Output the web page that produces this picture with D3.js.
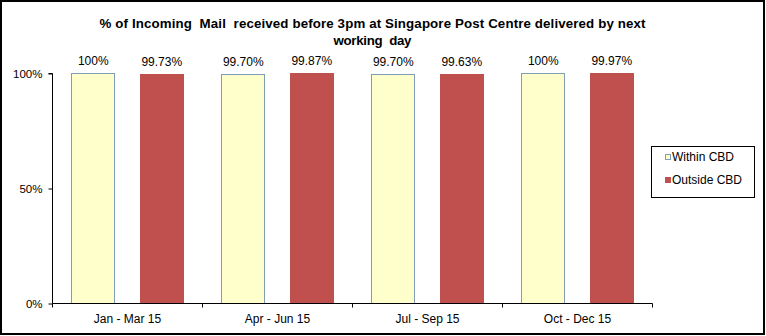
<!DOCTYPE html>
<html><head><meta charset="utf-8">
<script src="https://cdn.jsdelivr.net/npm/d3@7"></script>
<style>body{margin:0;background:#fff}svg{display:block}text{font-family:"Liberation Sans",Arial,sans-serif}</style>
</head><body>
<script>
const categories = ["Jan - Mar 15","Apr - Jun 15","Jul - Sep 15","Oct - Dec 15"];
const seriesNames = ["Within CBD","Outside CBD"];
const withinCBD = [100, 99.70, 99.70, 100];
const outsideCBD = [99.73, 99.87, 99.63, 99.97];
const withinLabels = ["100%","99.70%","99.70%","100%"];
const outsideLabels = ["99.73%","99.87%","99.63%","99.97%"];
const yTicks = [0, 50, 100];
const titleLines = ["% of Incoming  Mail  received before 3pm at Singapore Post Centre delivered by next","working  day"];

const W = 766, H = 336;
const svg = d3.select("body").append("svg").attr("width", W).attr("height", H);
svg.append("rect").attr("x",1).attr("y",1).attr("width",W-3).attr("height",H-3)
  .attr("fill","#fff").attr("stroke","#000").attr("stroke-width",2);

const m = {left:52, right:652, top:73, bottom:303};
const x0 = d3.scaleBand().domain(categories).range([m.left, m.right]).paddingInner(0).paddingOuter(0);
const x1 = d3.scaleBand().domain(seriesNames).range([0, x0.bandwidth()]).paddingInner(0.37).paddingOuter(0.28);
const y = d3.scaleLinear().domain([0,100]).range([m.bottom, m.top]);

// title
const tl = [546, 78];
svg.append("g").selectAll("text").data(titleLines).join("text")
  .attr("x", 372.5).attr("y",(d,i)=>28+i*17).attr("text-anchor","middle")
  .attr("xml:space","preserve").style("white-space","pre")
  .attr("textLength",(d,i)=>tl[i]).attr("lengthAdjust","spacing")
  .attr("font-size",13.3).attr("font-weight","bold").attr("fill","#000").text(d=>d);

const data = categories.map((c,i)=>({cat:c, vals:[
  {s:seriesNames[0], v:withinCBD[i], l:withinLabels[i]},
  {s:seriesNames[1], v:outsideCBD[i], l:outsideLabels[i]}]}));
const fills = {"Within CBD":"#FFFFCC","Outside CBD":"#C0504D"};
const strokes = {"Within CBD":"#7F9DB9","Outside CBD":"#C0504D"};

const g = svg.append("g");
const grp = g.selectAll("g").data(data).join("g").attr("transform",d=>`translate(${x0(d.cat)},0)`);
grp.selectAll("rect").data(d=>d.vals).join("rect")
  .attr("x",d=>Math.round(x1(d.s))+0.5).attr("y",d=>Math.round(y(d.v))+0.5)
  .attr("width",Math.round(x1.bandwidth())).attr("height",d=>m.bottom-Math.round(y(d.v)))
  .attr("fill",d=>fills[d.s]).attr("stroke",d=>strokes[d.s]).attr("stroke-width",1);
grp.selectAll("text").data(d=>d.vals).join("text")
  .attr("x",d=>x1(d.s)+x1.bandwidth()/2+0.5).attr("y",d=>y(d.v)-8)
  .attr("text-anchor","middle").attr("font-size",12).attr("fill","#000").text(d=>d.l);

// y axis
const yAxis = d3.axisLeft(y).tickValues(yTicks).tickFormat(d=>d+"%").tickSize(4).tickPadding(6);
const ya = svg.append("g").attr("transform",`translate(${m.left+0.5},0.5)`).call(yAxis);
ya.select(".domain").attr("stroke","#000").attr("d",`M-4,${m.top}H0V${m.bottom}`);
ya.selectAll("line").attr("stroke","#000");
ya.selectAll("text").attr("font-size",11.5).attr("fill","#000").attr("font-family","Liberation Sans, Arial, sans-serif");

// x axis
const xa = svg.append("g").attr("transform",`translate(0.5,${m.bottom+0.5})`);
xa.append("line").attr("x1",m.left).attr("x2",m.right).attr("stroke","#000");
const bounds = categories.map(c=>x0(c)).concat([m.right]);
xa.selectAll("line.t").data(bounds).join("line").attr("class","t")
  .attr("x1",d=>d).attr("x2",d=>d).attr("y1",0).attr("y2",4).attr("stroke","#000");
xa.selectAll("text").data(categories).join("text")
  .attr("x",d=>x0(d)+x0.bandwidth()/2).attr("y",19.5).attr("text-anchor","middle")
  .attr("font-size",12).attr("fill","#000").text(d=>d);

// legend
const lg = svg.append("g");
lg.append("rect").attr("x",651.5).attr("y",146.5).attr("width",103).attr("height",51)
  .attr("fill","#fff").attr("stroke","#000");
seriesNames.forEach((s,i)=>{
  lg.append("rect").attr("x",665.5).attr("y",154.5+i*23).attr("width",5).attr("height",5)
    .attr("fill",fills[s]).attr("stroke",strokes[s]);
  lg.append("text").attr("x",672).attr("y",160.5+i*23).attr("font-size",12).attr("fill","#000").text(s);
});
</script>
</body></html>
